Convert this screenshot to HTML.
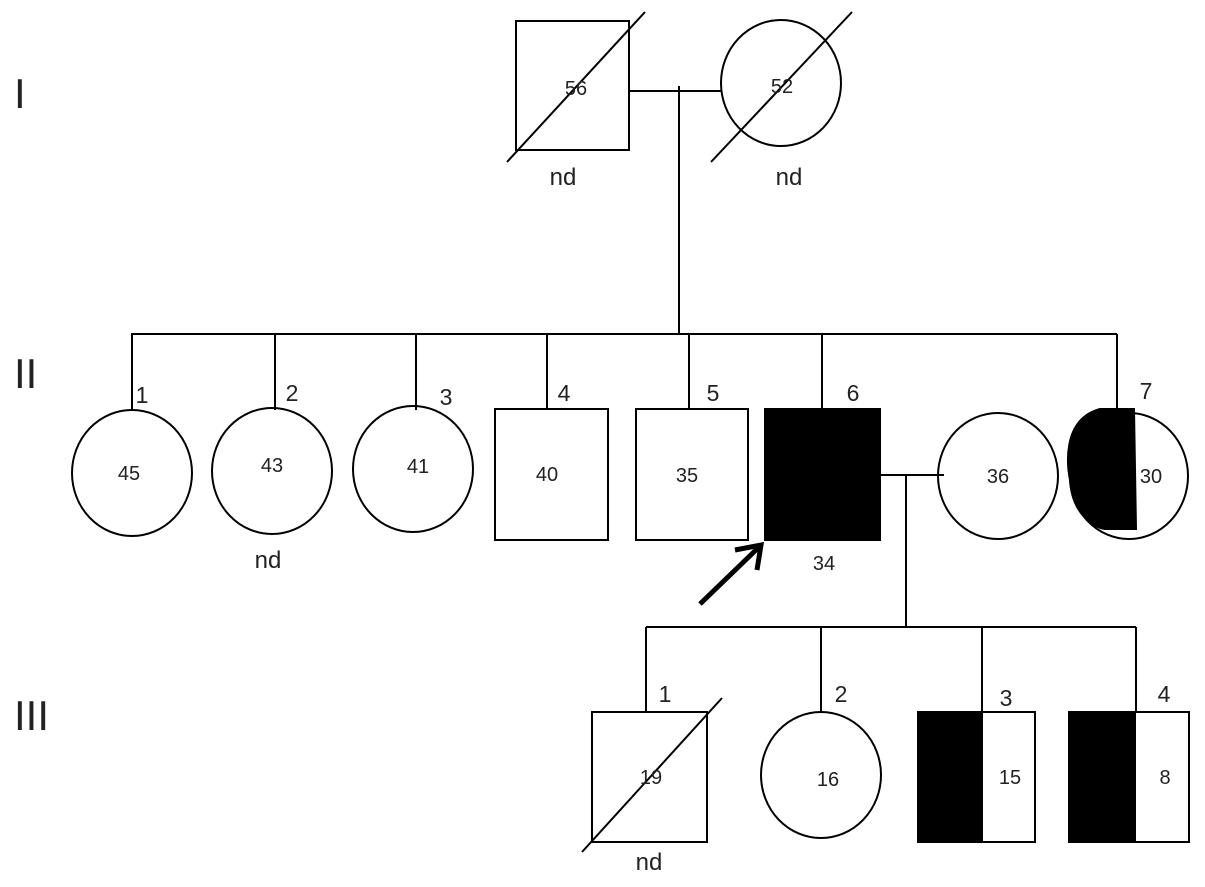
<!DOCTYPE html>
<html><head><meta charset="utf-8"><style>html,body{margin:0;padding:0;background:#fff}svg{display:block}</style></head>
<body>
<svg width="1205" height="887" viewBox="0 0 1205 887" xmlns="http://www.w3.org/2000/svg" font-family="Liberation Sans, Arial, sans-serif">
<g fill="none" stroke="#000" stroke-width="2">
<!-- Gen I -->
<rect x="516" y="21" width="113" height="129"/>
<line x1="507" y1="162" x2="645" y2="12"/>
<ellipse cx="781" cy="83" rx="60" ry="63"/>
<line x1="711" y1="162" x2="852" y2="12"/>
<line x1="629" y1="91" x2="721" y2="91"/>
<line x1="679" y1="86" x2="679" y2="334"/>
<!-- Gen II sibship -->
<line x1="131" y1="334" x2="1117" y2="334"/>
<line x1="132" y1="334" x2="132" y2="410"/>
<line x1="275" y1="334" x2="275" y2="410"/>
<line x1="416" y1="334" x2="416" y2="410"/>
<line x1="547" y1="334" x2="547" y2="409"/>
<line x1="689" y1="334" x2="689" y2="409"/>
<line x1="822" y1="334" x2="822" y2="409"/>
<line x1="1117" y1="334" x2="1117" y2="409"/>
<ellipse cx="132" cy="473" rx="60" ry="63"/>
<ellipse cx="272" cy="471" rx="60" ry="63"/>
<ellipse cx="413" cy="469" rx="60" ry="63"/>
<rect x="495" y="409" width="113" height="131"/>
<rect x="636" y="409" width="112" height="131"/>
<rect x="765" y="409" width="115" height="131" fill="#000"/>
<ellipse cx="998" cy="476" rx="60" ry="63"/>
<ellipse cx="1129" cy="476" rx="59" ry="63"/>
<path d="M1134 409 L1100 409 C1060 420 1068 470 1070 480 C1072 515 1095 528 1105 529 L1136 529 Z" fill="#000"/>
<line x1="880" y1="475" x2="944" y2="475"/>
<line x1="906" y1="475" x2="906" y2="627"/>
<!-- Gen III -->
<line x1="646" y1="627" x2="1136" y2="627"/>
<line x1="646" y1="627" x2="646" y2="712"/>
<line x1="821" y1="627" x2="821" y2="712"/>
<line x1="982" y1="627" x2="982" y2="712"/>
<line x1="1136" y1="627" x2="1136" y2="712"/>
<rect x="592" y="712" width="115" height="130"/>
<line x1="582" y1="852" x2="722" y2="698"/>
<ellipse cx="821" cy="775" rx="60" ry="63"/>
<rect x="918" y="712" width="117" height="130"/>
<rect x="918" y="712" width="64" height="130" fill="#000"/>
<rect x="1069" y="712" width="120" height="130"/>
<rect x="1069" y="712" width="66" height="130" fill="#000"/>
<!-- arrow -->
<line x1="700" y1="604" x2="758" y2="548" stroke-width="5"/>
<polyline points="735,550 761,545 757,570" stroke-width="5"/>
</g>
<g font-size="20" fill="#222" text-anchor="middle">
<text x="576" y="95">56</text><text x="782" y="93">52</text>
<text x="563" y="185" font-size="24">nd</text><text x="789" y="185" font-size="24">nd</text>
<text x="129" y="480">45</text><text x="272" y="472">43</text><text x="418" y="473">41</text>
<text x="547" y="481">40</text><text x="687" y="482">35</text>
<text x="824" y="570">34</text><text x="998" y="483">36</text><text x="1151" y="483">30</text>
<text x="268" y="568" font-size="24">nd</text>
<text x="651" y="784">19</text><text x="828" y="786">16</text><text x="1010" y="784">15</text><text x="1165" y="784">8</text>
<text x="649" y="870" font-size="24">nd</text>
</g>
<g font-size="23" fill="#222" text-anchor="middle">
<text x="142" y="403">1</text><text x="292" y="401">2</text><text x="446" y="405">3</text>
<text x="564" y="401">4</text><text x="713" y="401">5</text><text x="853" y="401">6</text><text x="1146" y="399">7</text>
<text x="665" y="702">1</text><text x="841" y="702">2</text><text x="1006" y="706">3</text><text x="1164" y="702">4</text>
</g>
<g font-size="42" fill="#222">
<text x="14" y="108">I</text><text x="14" y="388">II</text><text x="14" y="730">III</text>
</g>
</svg>
</body></html>
